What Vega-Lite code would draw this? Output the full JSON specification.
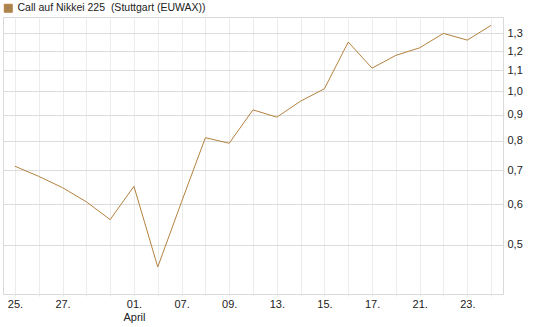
{
  "$schema": "https://vega.github.io/schema/vega-lite/v6.json",
  "width": 500,
  "height": 277,
  "autosize": {"type": "none"},
  "padding": {"left": 3, "top": 17, "right": 42, "bottom": 33},
  "background": "white",
  "data": {
    "values": [
      {"date": "2015-03-25", "value": 0.713, "series": "Call auf Nikkei 225 \u00a0(Stuttgart (EUWAX))"},
      {"date": "2015-03-26", "value": 0.681, "series": "Call auf Nikkei 225 \u00a0(Stuttgart (EUWAX))"},
      {"date": "2015-03-27", "value": 0.647, "series": "Call auf Nikkei 225 \u00a0(Stuttgart (EUWAX))"},
      {"date": "2015-03-30", "value": 0.607, "series": "Call auf Nikkei 225 \u00a0(Stuttgart (EUWAX))"},
      {"date": "2015-03-31", "value": 0.560, "series": "Call auf Nikkei 225 \u00a0(Stuttgart (EUWAX))"},
      {"date": "2015-04-01", "value": 0.651, "series": "Call auf Nikkei 225 \u00a0(Stuttgart (EUWAX))"},
      {"date": "2015-04-02", "value": 0.452, "series": "Call auf Nikkei 225 \u00a0(Stuttgart (EUWAX))"},
      {"date": "2015-04-07", "value": 0.607, "series": "Call auf Nikkei 225 \u00a0(Stuttgart (EUWAX))"},
      {"date": "2015-04-08", "value": 0.811, "series": "Call auf Nikkei 225 \u00a0(Stuttgart (EUWAX))"},
      {"date": "2015-04-09", "value": 0.791, "series": "Call auf Nikkei 225 \u00a0(Stuttgart (EUWAX))"},
      {"date": "2015-04-10", "value": 0.920, "series": "Call auf Nikkei 225 \u00a0(Stuttgart (EUWAX))"},
      {"date": "2015-04-13", "value": 0.890, "series": "Call auf Nikkei 225 \u00a0(Stuttgart (EUWAX))"},
      {"date": "2015-04-14", "value": 0.957, "series": "Call auf Nikkei 225 \u00a0(Stuttgart (EUWAX))"},
      {"date": "2015-04-15", "value": 1.012, "series": "Call auf Nikkei 225 \u00a0(Stuttgart (EUWAX))"},
      {"date": "2015-04-16", "value": 1.250, "series": "Call auf Nikkei 225 \u00a0(Stuttgart (EUWAX))"},
      {"date": "2015-04-17", "value": 1.111, "series": "Call auf Nikkei 225 \u00a0(Stuttgart (EUWAX))"},
      {"date": "2015-04-20", "value": 1.177, "series": "Call auf Nikkei 225 \u00a0(Stuttgart (EUWAX))"},
      {"date": "2015-04-21", "value": 1.218, "series": "Call auf Nikkei 225 \u00a0(Stuttgart (EUWAX))"},
      {"date": "2015-04-22", "value": 1.300, "series": "Call auf Nikkei 225 \u00a0(Stuttgart (EUWAX))"},
      {"date": "2015-04-23", "value": 1.261, "series": "Call auf Nikkei 225 \u00a0(Stuttgart (EUWAX))"},
      {"date": "2015-04-24", "value": 1.348, "series": "Call auf Nikkei 225 \u00a0(Stuttgart (EUWAX))"}
    ]
  },
  "mark": {"type": "line", "strokeWidth": 1, "interpolate": "linear"},
  "encoding": {
    "x": {
      "field": "date",
      "type": "ordinal",
      "scale": {"type": "point", "padding": 0.5},
      "axis": {
        "title": null,
        "grid": true,
        "gridColor": "#ececec",
        "domain": false,
        "ticks": true,
        "tickSize": 2,
        "tickColor": "#e4e4e4",
        "labelAngle": 0,
        "labelPadding": 2,
        "labelOverlap": false,
        "labelFont": "Liberation Sans",
        "labelFontSize": 11,
        "labelColor": "#222222",
        "labelLineHeight": 13,
        "labelExpr": "datum.value == '2015-04-01' ? ['01.', 'April'] : (indexof(['2015-03-25','2015-03-27','2015-04-07','2015-04-09','2015-04-13','2015-04-15','2015-04-17','2015-04-21','2015-04-23'], datum.value) >= 0 ? slice(datum.value, 8) + '.' : '')"
      }
    },
    "y": {
      "field": "value",
      "type": "quantitative",
      "scale": {"type": "log", "domain": [0.4, 1.4], "nice": false, "zero": false},
      "axis": {
        "title": null,
        "orient": "right",
        "values": [0.5, 0.6, 0.7, 0.8, 0.9, 1.0, 1.1, 1.2, 1.3],
        "grid": true,
        "gridColor": "#dcdcdc",
        "domain": false,
        "ticks": false,
        "labelPadding": 4,
        "labelFont": "Liberation Sans",
        "labelFontSize": 11,
        "labelColor": "#222222",
        "labelExpr": "replace(format(datum.value, '.1f'), '.', ',')"
      }
    },
    "color": {
      "field": "series",
      "type": "nominal",
      "scale": {"range": ["#b5823f"]},
      "legend": {
        "title": null,
        "orient": "none",
        "legendX": 0,
        "legendY": -14,
        "padding": 0,
        "symbolType": "square",
        "symbolSize": 64,
        "labelOffset": 4,
        "labelFont": "Liberation Sans",
        "labelFontSize": 10.5,
        "labelColor": "#222222",
        "labelLimit": 400,
        "encode": {
          "symbols": {"update": {"fill": {"value": "#a98450"}, "stroke": {"value": "#3d2c18"}, "strokeWidth": {"value": 1}, "opacity": {"value": 1}}}
        }
      }
    }
  },
  "config": {
    "view": {"stroke": "#d9d9d9", "strokeWidth": 1}
  }
}
